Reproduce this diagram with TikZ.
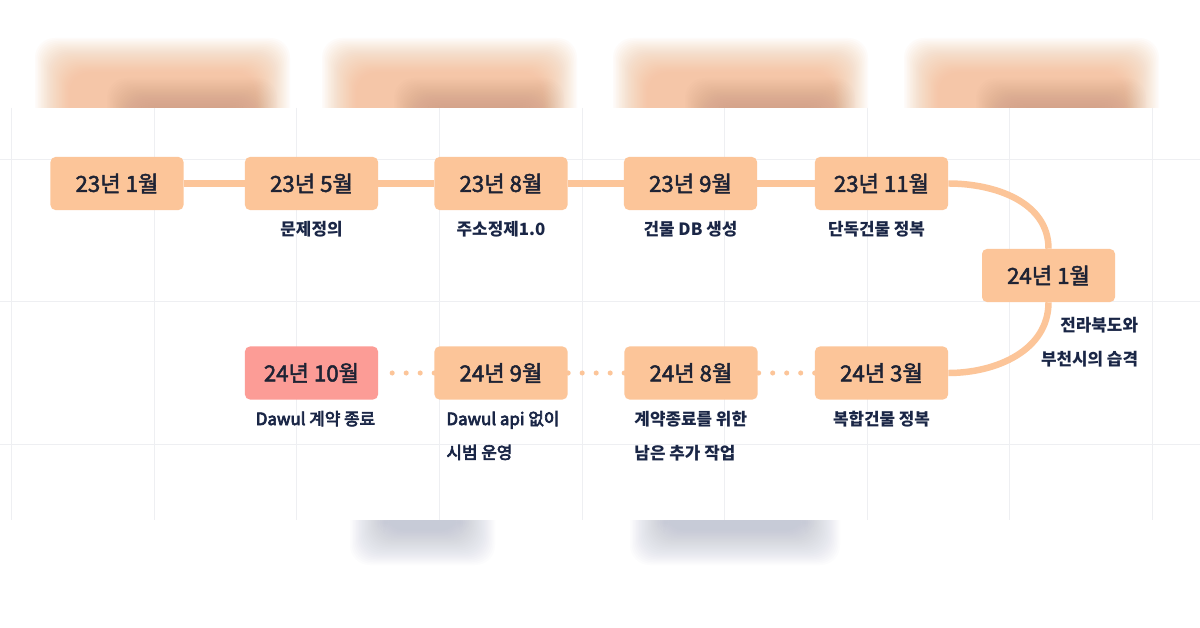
\documentclass[tikz,border=0pt]{standalone}
\usepackage{fontspec}
\setmainfont{Noto Sans CJK KR}
\newfontfamily\monthfont[FakeBold=2.2]{Noto Sans CJK KR}
\newfontfamily\lightnotefont[FakeBold=4]{Noto Sans CJK KR}
\usetikzlibrary{positioning}
\definecolor{peach}{RGB}{252,197,153}
\definecolor{salmon}{RGB}{252,156,150}
\definecolor{inkdark}{RGB}{30,35,52}
\definecolor{inknavy}{RGB}{26,38,70}
\definecolor{gridgray}{RGB}{238,239,242}
\definecolor{glowpeach}{RGB}{245,175,125}
\definecolor{glowbrown}{RGB}{170,120,100}
\definecolor{glowgray}{RGB}{168,174,192}
\newcommand{\softblob}[6]{%
  \foreach \i in {0,...,23}
    \fill[#5,fill opacity=#6,rounded corners=14pt]
      ({#1+1.5*\i},{#2+1.5*\i}) rectangle ({#3-1.5*\i},{#4-1.5*\i});}

\begin{document}
\begin{tikzpicture}[x=0.025cm,y=-0.025cm,
  month/.style={fill=peach,rounded corners=3.5pt,minimum width=3.325cm,
    minimum height=1.325cm,inner sep=0pt,text=inkdark,
    font=\monthfont\fontsize{15.8}{18}\selectfont},
  note/.style={inner sep=0pt,text=inknavy,font=\bfseries\fontsize{12}{24}\selectfont},
  notelight/.style={note,font=\lightnotefont\fontsize{12}{24}\selectfont},
  link/.style={peach,line width=4.6pt},
  dotlink/.style={peach,line width=3.6pt,line cap=round,dash pattern=on 0pt off 9.96pt}]
  \useasboundingbox (0,0) rectangle (1200,628);
  \fill[white] (0,0) rectangle (1200,628);
  \begin{scope}
    \clip (0,0) rectangle (1200,108);
    \foreach \x in {57,344,635,926}{
      \softblob{\x-22}{38}{\x+233}{170}{glowpeach}{0.04}
      \softblob{\x+50}{78}{\x+220}{160}{glowbrown}{0.018}
    }
  \end{scope}
  \begin{scope}
    \clip (0,520) rectangle (1200,628);
    \softblob{350}{480}{495}{565}{glowgray}{0.03}
    \softblob{630}{480}{840}{565}{glowgray}{0.03}
  \end{scope}
  \foreach \gx in {0,...,8}
    \draw[gridgray,line width=0.5pt] ({11.5+142.6*\gx},108) -- ({11.5+142.6*\gx},520);
  \foreach \gy in {159,301.5,444}
    \draw[gridgray,line width=0.5pt] (0,\gy) -- (1200,\gy);

  \node[month] (d2301) at (117,183.5) {23년 1월};
  \node[month] (d2305) at (311.5,183.5) {23년 5월};
  \node[month] (d2308) at (501,183.5) {23년 8월};
  \node[month] (d2309) at (690.5,183.5) {23년 9월};
  \node[month] (d2311) at (881.5,183.5) {23년 11월};
  \node[month] (d2401) at (1048.5,275.5) {24년 1월};
  \node[month] (d2403) at (881.5,373) {24년 3월};
  \node[month] (d2408) at (691,373) {24년 8월};
  \node[month] (d2409) at (501,373) {24년 9월};
  \node[month,fill=salmon] (d2410) at (311.5,373) {24년 10월};

  \node[note,below=0.275cm of d2305] (n2305) {문제정의};
  \node[note,below=0.275cm of d2308] (n2308) {주소정제1.0};
  \node[note,below=0.275cm of d2309] (n2309) {건물 DB 생성};
  \node[note,below=0.275cm of d2311,xshift=-0.125cm] (n2311) {단독건물 정복};
  \node[note,align=right,below=0.375cm of d2401.south east,anchor=north east,
    xshift=0.575cm] (n2401) {전라북도와\\부천시의 습격};
  \node[note,below=0.275cm of d2403] (n2403) {복합건물 정복};
  \node[note,align=left,below=0.275cm of d2408.south west,anchor=north west,
    xshift=0.25cm] (n2408) {계약종료를 위한\\남은 추가 작업};
  \node[notelight,align=left,below=0.275cm of d2409.south west,anchor=north west,
    xshift=0.3cm] (n2409) {Dawul api 없이\\시범 운영};
  \node[notelight,below=0.275cm of d2410,xshift=0.1cm] (n2410) {Dawul 계약 종료};

  \draw[link] (d2301) -- (d2305);
  \draw[link] (d2305) -- (d2308);
  \draw[link] (d2308) -- (d2309);
  \draw[link] (d2309) -- (d2311);
  \draw[link] (d2311.east) to[out=0,in=90] (d2401.north);
  \draw[link] (d2401.south) to[out=-90,in=0] (d2403.east);
  \draw[dotlink] (d2403) -- (d2408);
  \draw[dotlink] (d2408) -- (d2409);
  \draw[dotlink] (d2409) -- (d2410);
\end{tikzpicture}
\end{document}
